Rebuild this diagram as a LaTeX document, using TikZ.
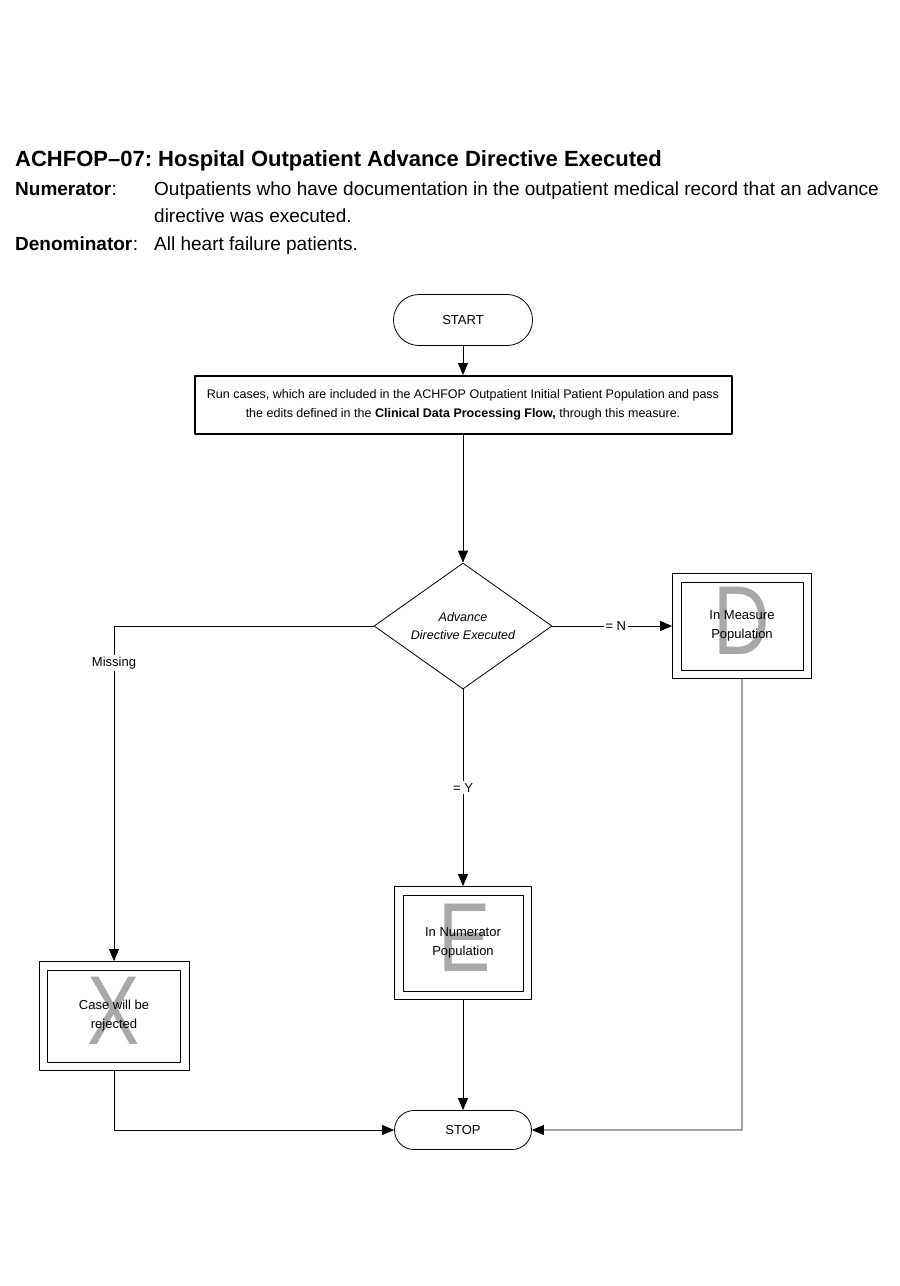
\documentclass[tikz,border=0pt]{standalone}
\usepackage{fontspec}
\setmainfont{Liberation Sans}
\frenchspacing
\usetikzlibrary{shapes.geometric,shapes.misc,arrows.meta}
\definecolor{lettergray}{rgb}{0.66,0.66,0.66}
\newcommand{\boxletter}[1]{\scalebox{0.8}[1]{#1}}
\tikzset{
  pill/.style={draw,line width=0.8pt,rounded rectangle,minimum width=139pt,minimum height=51pt,inner sep=0pt,font=\fontsize{13}{15}\selectfont},
  runbox/.style={draw,line width=2pt,minimum width=537pt,minimum height=58pt,align=center,font=\fontsize{12.5}{19}\selectfont},
  decision/.style={draw,line width=0.8pt,diamond,aspect=1.41,minimum width=178pt,minimum height=126pt,inner sep=0pt,align=center,font=\fontsize{12.5}{18}\selectfont\itshape},
  resultbox/.style={draw,line width=0.8pt,fill=white},
  boxtext/.style={align=center,inner sep=0pt,font=\fontsize{13}{19}\selectfont},
  bigletter/.style={text=lettergray,inner sep=0pt,font=\fontsize{98}{98}\selectfont},
  flow/.style={line width=0.8pt,-{Triangle[length=12pt,width=10pt]}},
  tag/.style={fill=white,inner sep=2pt,font=\fontsize{13}{15}\selectfont},
  headtext/.style={anchor=base west,inner sep=0pt,font=\fontsize{19}{22}\selectfont}
}
\begin{document}
\begin{tikzpicture}[x=1pt,y=-1pt,line cap=round,line join=round]
  \useasboundingbox (0,0) rectangle (900,1286);
  % heading
  \node[anchor=base west,inner sep=0pt,font=\fontsize{22}{26}\selectfont\bfseries] (title) at (15,166) {ACHFOP–07: Hospital Outpatient Advance Directive Executed};
  \node[headtext,font=\fontsize{19}{22}\selectfont\bfseries] (numlbl) at (15,195) {Numerator};
  \node[headtext] at (numlbl.base east) {:};
  \node[headtext] (numtxt) at (154,195) {Outpatients who have documentation in the outpatient medical record that an advance};
  \node[headtext] (numtxt2) at (154,222) {directive was executed.};
  \node[headtext,font=\fontsize{19}{22}\selectfont\bfseries] (denlbl) at (15,250) {Denominator};
  \node[headtext] at (denlbl.base east) {:};
  \node[headtext] (dentxt) at (154,250) {All heart failure patients.};
  % flow
  \node[pill] (start) at (463,320) {START};
  \node[runbox] (run) at (463,405) {Run cases, which are included in the ACHFOP Outpatient Initial Patient Population and pass\\the edits defined in the \textbf{Clinical Data Processing Flow,} through this measure.};
  \node[decision] (adv) at (463,626) {Advance\\Directive Executed};
  \node[resultbox,minimum width=139pt,minimum height=105pt] (meas) at (742,626) {};
  \node[resultbox,minimum width=137pt,minimum height=113pt] (numer) at (463,943) {};
  \node[resultbox,minimum width=150pt,minimum height=109pt] (rej) at (114,1016) {};
  % inner frames
  \foreach \b in {meas,numer,rej}
    \draw[line width=0.8pt] ([shift={(9,9)}]\b.north west) rectangle ([shift={(-9,-9)}]\b.south east);
  \node[bigletter] at (742,621) {\boxletter{D}};
  \node[boxtext] at (meas) {In Measure\\Population};
  \node[bigletter] at (465,938) {\boxletter{E}};
  \node[boxtext] at (numer) {In Numerator\\Population};
  \node[bigletter] at (114,1011) {\boxletter{X}};
  \node[boxtext] at (rej) {Case will be\\rejected};
  \node[pill,minimum height=39pt,minimum width=137pt] (stop) at (463,1130) {STOP};
  \coordinate (misscorner) at (114,626);
  \coordinate (rejcorner) at (114,1130);
  \coordinate (meascorner) at (742,1130);

  \draw[flow] (start) -- (run);
  \draw[flow] (run) -- (adv);
  \draw[flow] (adv) -- node[tag,pos=0.53] {= N} (meas);
  \draw[flow] (adv) -- (misscorner) -- node[tag,pos=0.11] {Missing} (rej);
  \draw[flow] (adv) -- node[tag,pos=0.5] {= Y} (numer);
  \draw[flow] (numer) -- (stop);
  \draw[flow] (rej) -- (rejcorner) -- (stop);
  \draw[flow] (meas) -- (meascorner) -- (stop);
\end{tikzpicture}
\end{document}
